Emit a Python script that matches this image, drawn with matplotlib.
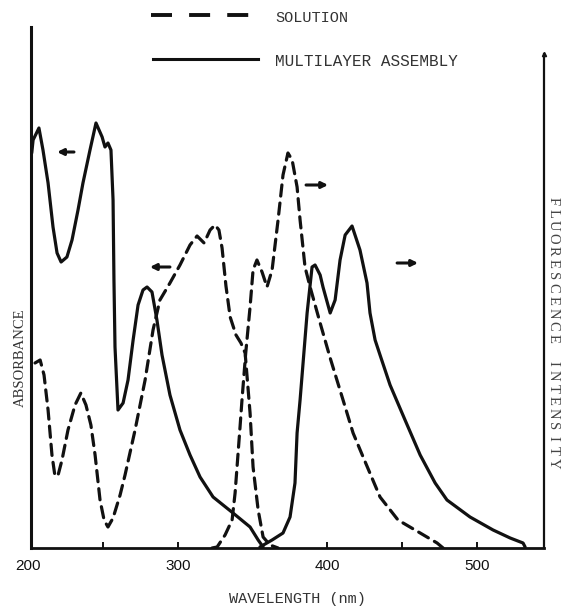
import matplotlib
matplotlib.use("Agg")
import matplotlib.pyplot as plt
from matplotlib.lines import Line2D

# ---------------- data (wavelength nm, relative intensity) ----------------
sol_abs_wl = [204.7, 208.1, 210.7, 213.4, 216.0, 218.0, 220.1, 222.7, 226.7, 231.4,
              235.3, 238.7, 242.0, 244.8, 248.1, 250.8, 253.4, 256.8, 261.5, 264.8,
              271.5, 278.2, 283.5, 288.1, 294.8, 301.5, 308.2, 312.9, 317.6, 321.6,
              324.9, 327.5, 329.6, 332.2, 335.0, 338.9, 342.2, 345.0, 348.3, 350.3,
              353.7, 357.0, 361.6, 367.0]
sol_abs_val = [185, 188, 173, 138, 93, 72, 73, 88, 118, 143,
               155, 143, 123, 93, 48, 28, 21, 30, 53, 73,
               118, 168, 218, 248, 265, 283, 303, 312, 305, 318,
               323, 318, 300, 262, 231, 213, 205, 195, 135, 81,
               38, 11, 3, 0]

sol_fl_wl = [322.9, 326.3, 331.6, 336.3, 338.3, 340.3, 341.6, 342.9, 345.4, 348.3,
             350.3, 352.9, 356.3, 359.6, 363.0, 367.0, 370.3, 373.6, 376.4, 379.7,
             381.7, 385.0, 388.4, 395.1, 401.8, 410.4, 417.1, 423.8, 435.1, 447.1,
             461.9, 473.2, 477.2]
sol_fl_val = [0, 1, 13, 28, 55, 95, 121, 148, 195, 241,
              278, 288, 276, 261, 278, 328, 373, 395, 388, 361,
              328, 281, 261, 225, 190, 148, 115, 91, 51, 28,
              15, 5, 0]

mla_abs_wl = [202.5, 203.4, 207.3, 210.0, 213.4, 216.7, 219.4, 222.1, 226.0, 229.4,
              233.4, 236.7, 241.4, 245.4, 249.5, 251.4, 253.4, 255.4, 256.8, 257.4,
              258.1, 260.1, 263.5, 266.8, 270.2, 273.5, 276.8, 279.5, 282.8, 286.1,
              289.5, 294.8, 301.5, 308.2, 314.9, 323.6, 336.9, 348.3, 353.7, 357.0]
mla_abs_val = [395, 408, 420, 398, 365, 321, 295, 286, 291, 308,
               338, 365, 398, 425, 411, 401, 405, 398, 348, 268,
               201, 138, 145, 168, 208, 243, 258, 261, 256, 228,
               193, 153, 118, 93, 71, 51, 35, 21, 8, 1]

mla_fl_wl = [354.9, 363.0, 370.3, 375.0, 378.3, 379.7, 381.7, 386.4, 389.7, 391.7,
             395.1, 397.0, 401.8, 405.1, 408.4, 411.8, 416.4, 421.7, 426.4, 428.4,
             431.8, 435.1, 441.8, 451.8, 461.9, 471.9, 479.8, 495.2, 510.6, 522.0,
             530.6, 532.0]
mla_fl_val = [1, 8, 15, 31, 65, 115, 148, 235, 281, 283,
              273, 261, 235, 248, 288, 313, 322, 298, 265, 235,
              208, 193, 163, 128, 93, 65, 48, 31, 18, 10,
              5, 1]

tick_positions = [250, 300, 400, 450, 500]
tick_labels = [200, 300, 400, 500]

# arrows: (tail wl, tail y) -> (head wl, head y)
arrow_tails = [(230.7, 396), (294.8, 281), (385.7, 363), (446.5, 285)]
arrow_heads = [(219.4, 396), (281.4, 281), (400.4, 363), (460.5, 285)]

legend_labels = ["SOLUTION", "MULTILAYER ASSEMBLY"]
x_label = "WAVELENGTH (nm)"
y_label_left = "ABSORBANCE"
y_label_right = "FLUORESCENCE INTENSITY"

# ---------------- figure ----------------
W, H = 561, 608
fig = plt.figure(figsize=(W / 100, H / 100), dpi=100)
ax = fig.add_axes([31 / W, 1 - 548 / H, (544 - 31) / W, (548 - 27) / H])
ax.set_xlim(202.0, 544.6)
ax.set_ylim(0, 521)

ink = "#111111"
txt = "#333333"
lw = 2.3
dash = (3.5, 2.2)

ax.plot(sol_abs_wl, sol_abs_val, color=ink, lw=lw, dashes=dash,
        dash_capstyle="round", solid_joinstyle="round")
ax.plot(sol_fl_wl, sol_fl_val, color=ink, lw=lw, dashes=dash,
        dash_capstyle="round", solid_joinstyle="round")
ax.plot(mla_abs_wl, mla_abs_val, color=ink, lw=lw, solid_joinstyle="round",
        solid_capstyle="round")
ax.plot(mla_fl_wl, mla_fl_val, color=ink, lw=lw, solid_joinstyle="round",
        solid_capstyle="round")

for t, h in zip(arrow_tails, arrow_heads):
    ax.annotate("", xy=h, xytext=t,
                arrowprops=dict(arrowstyle="-|>", lw=2.2, color=ink,
                                mutation_scale=9, shrinkA=0, shrinkB=0))

# spines
ax.spines["top"].set_visible(False)
ax.spines["left"].set_linewidth(2.2)
ax.spines["bottom"].set_linewidth(2.0)
ax.spines["right"].set_linewidth(1.6)
ax.spines["right"].set_bounds(0, 494)
for s in ax.spines.values():
    s.set_color(ink)
ax.plot([544.6], [494], marker="^", ms=3, color=ink, clip_on=False)

ax.set_yticks([])
ax.set_xticks(tick_positions)
ax.tick_params(axis="x", direction="in", length=4, width=1.4, color=ink,
               labelbottom=False)

xt = ax.get_xaxis_transform()
for v in tick_labels:
    ax.text(v, -18 / 521, str(v), transform=xt, ha="center", va="center",
            family="Liberation Sans", fontsize=11, color=ink)

fig.text(297 / W, 1 - 599 / H, x_label, ha="center", va="center",
         family="Liberation Mono", fontsize=11, color=txt)
fig.text(20 / W, 1 - 358 / H, y_label_left, rotation=90, ha="center",
         va="center", family="Liberation Serif", fontsize=10.5, color=txt)

# right label: typewriter-like spaced letters, reading top to bottom
step = 12.5
n = len(y_label_right)
y0 = 332 - step * (n - 1) / 2
for i, ch in enumerate(y_label_right):
    fig.text(553 / W, 1 - (y0 + i * step) / H, ch, rotation=270,
             ha="center", va="center", rotation_mode="anchor",
             family="Liberation Serif", fontsize=10.5, color="#444444")

# legend drawn by hand
fig.add_artist(Line2D([151 / W, 258 / W], [1 - 15 / H, 1 - 15 / H],
                      transform=fig.transFigure, color=ink, lw=2.8,
                      dashes=(5.4, 4.4)))
fig.add_artist(Line2D([153 / W, 258 / W], [1 - 59 / H, 1 - 59 / H],
                      transform=fig.transFigure, color=ink, lw=2.2))
fig.text(275 / W, 1 - 18 / H, legend_labels[0], ha="left", va="center",
         family="Liberation Mono", fontsize=11, color=txt)
fig.text(275 / W, 1 - 62 / H, legend_labels[1], ha="left", va="center",
         family="Liberation Mono", fontsize=11.5, color=txt)

fig.savefig("out.png", dpi=100)
